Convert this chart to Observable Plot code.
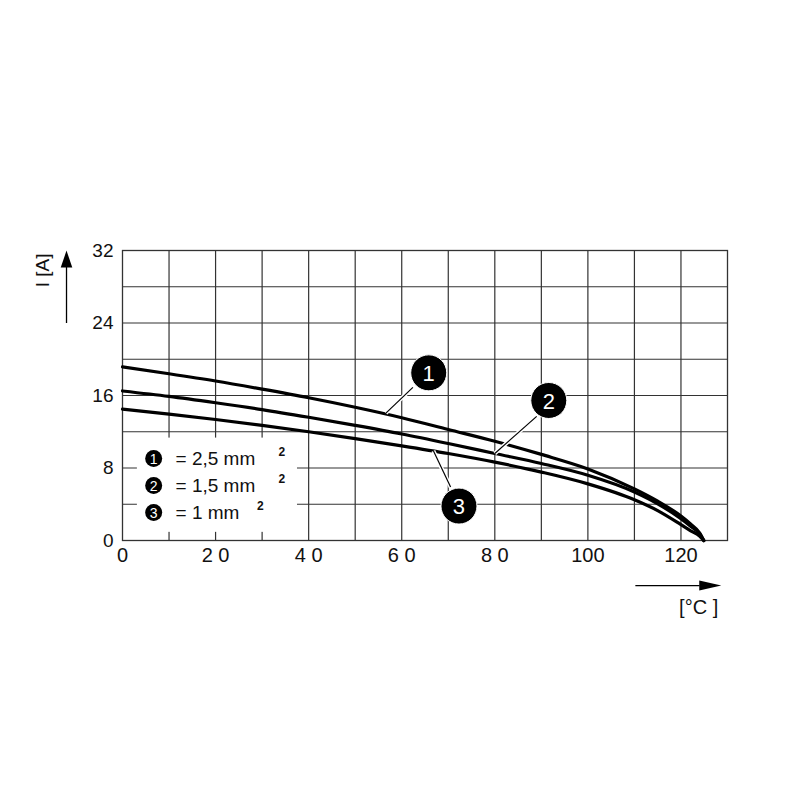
<!DOCTYPE html>
<html>
<head>
<meta charset="utf-8">
<script src="https://cdn.jsdelivr.net/npm/d3@7"></script>
<script src="https://cdn.jsdelivr.net/npm/@observablehq/plot@0.6"></script>
<style>
  html, body { margin: 0; padding: 0; background: #fff; }
  #chart { width: 800px; height: 800px; }
</style>
</head>
<body>
<div id="chart"></div>
<script>
// ---- data ----
const temps  = [0, 10, 20, 30, 40, 50, 60, 70, 80, 90, 100, 110, 115, 120, 122, 124, 124.9];
const curve1 = [19.15, 18.4, 17.6, 16.7, 15.75, 14.7, 13.55, 12.25, 10.95, 9.5, 7.9, 5.7, 4.35, 2.7, 1.85, 0.85, 0];
const curve2 = [16.5, 15.9, 15.2, 14.45, 13.6, 12.7, 11.75, 10.7, 9.6, 8.5, 7.2, 5.35, 4.05, 2.4, 1.6, 0.75, 0];
const curve3 = [14.5, 13.95, 13.35, 12.7, 12.0, 11.25, 10.45, 9.6, 8.65, 7.55, 6.25, 4.5, 3.3, 1.75, 1.1, 0.5, 0];
const seriesIds = ["1", "2", "3"];
const legendLabels = ["= 2,5 mm", "= 1,5 mm", "= 1 mm"];

const xTicks = [0, 20, 40, 60, 80, 100, 120];
const xTickLabels = ["0", "2 0", "4 0", "6 0", "8 0", "100", "120"];
const yTicks = [0, 8, 16, 24, 32];
const xGrid = [10, 20, 30, 40, 50, 60, 70, 80, 90, 100, 110, 120];
const yGrid = [4, 8, 12, 16, 20, 24, 28];

// callout circles and leader lines
const calloutX = [65.8, 91.6, 72.3];
const calloutY = [18.5, 15.45, 3.8];
const leaderX1 = [62.4, 89.0, 70.5];
const leaderY1 = [16.9, 13.7, 5.9];
const leaderX2 = [56.6, 80.0, 66.8];
const leaderY2 = [14.05, 9.6, 9.9];

// legend placement (data units)
const legendCircleX = 6.7;
const legendTextX = 11.4;
const legendRowY = [9.05, 6.07, 3.09];
const legendSupX = [33.5, 33.5, 28.9];

// ---- build ----
const curveRows = [];
[curve1, curve2, curve3].forEach((c, k) => {
  temps.forEach((t, i) => curveRows.push({ s: seriesIds[k], t, v: c[i] }));
});
const callouts = seriesIds.map((s, i) => ({ s, x: calloutX[i], y: calloutY[i] }));
const leaders = seriesIds.map((s, i) => ({ x1: leaderX1[i], y1: leaderY1[i], x2: leaderX2[i], y2: leaderY2[i] }));
const legendRows = seriesIds.map((s, i) => ({ s, label: legendLabels[i], y: legendRowY[i], sx: legendSupX[i] }));

function headSymbol(k) {
  return {
    draw(ctx, size) {
      const r = Math.sqrt(size / Math.PI);
      ctx.moveTo(0, -r);
      ctx.lineTo(k * r, r);
      ctx.lineTo(-k * r, r);
      ctx.closePath();
    }
  };
}

const gridColor = "#333";
const font = "'Liberation Sans', Arial, Helvetica, sans-serif";

const chart = Plot.plot({
  width: 800,
  height: 800,
  marginLeft: 122,
  marginRight: 73,
  marginTop: 250,
  marginBottom: 260,
  x: { domain: [0, 130] },
  y: { domain: [0, 32] },
  style: { fontFamily: font, background: "white", color: "#111" },
  marks: [
    Plot.ruleX(xGrid, { stroke: gridColor, strokeWidth: 1.2 }),
    Plot.ruleY(yGrid, { stroke: gridColor, strokeWidth: 1.2 }),
    // white legend panel hiding the grid
    Plot.rect([{ x1: 3.2, x2: 37.6, y1: 0.9, y2: 11.3 }], { x1: "x1", x2: "x2", y1: "y1", y2: "y2", fill: "white" }),
    Plot.frame({ stroke: gridColor, strokeWidth: 1.3 }),
    Plot.axisX({ ticks: xTicks, tickFormat: d => xTickLabels[xTicks.indexOf(d)], tickSize: 0, tickPadding: 7, fontSize: 20, label: null }),
    Plot.axisY({ ticks: yTicks, tickSize: 0, tickPadding: 9, fontSize: 19, label: null }),
    // curves
    Plot.line(curveRows, { x: "t", y: "v", z: "s", stroke: "black", strokeWidth: 3.2, curve: "monotone-x" }),
    // leader lines with white halo
    Plot.link(leaders, { x1: "x1", y1: "y1", x2: "x2", y2: "y2", stroke: "white", strokeWidth: 4 }),
    Plot.link(leaders, { x1: "x1", y1: "y1", x2: "x2", y2: "y2", stroke: "black", strokeWidth: 1.2 }),
    // callout circles
    Plot.dot(callouts, { x: "x", y: "y", r: 18, fill: "black", stroke: "white", strokeWidth: 1 }),
    Plot.text(callouts, { x: "x", y: "y", text: "s", fill: "white", fontSize: 22, dy: 1 }),
    // legend
    Plot.dot(legendRows, { x: () => legendCircleX, y: "y", r: 8.5, fill: "black" }),
    Plot.text(legendRows, { x: () => legendCircleX, y: "y", text: "s", fill: "white", fontSize: 14, dy: 1 }),
    Plot.text(legendRows, { x: () => legendTextX, y: "y", text: "label", textAnchor: "start", fontSize: 19, fill: "#111" }),
    Plot.text(legendRows, { x: "sx", y: "y", text: () => "2", textAnchor: "start", fontSize: 12, fontWeight: "bold", dy: -6, fill: "#111" }),
    // y axis label and arrow
    Plot.text([{ x: -17.0, y: 29.8 }], { x: "x", y: "y", text: () => "I [A]", rotate: -90, fontSize: 19, fill: "#111" }),
    Plot.link([{ x1: -12.03, y1: 24.0, x2: -12.03, y2: 30.5 }], { x1: "x1", y1: "y1", x2: "x2", y2: "y2", stroke: "black", strokeWidth: 1.3 }),
    Plot.dot([{ x: -12.03, y: 31.05 }], { x: "x", y: "y", r: 8.5, symbol: headSymbol(0.68), fill: "black", stroke: "none" }),
    // x axis label and arrow
    Plot.link([{ x1: 110.2, y1: -4.97, x2: 124, y2: -4.97 }], { x1: "x1", y1: "y1", x2: "x2", y2: "y2", stroke: "black", strokeWidth: 1.3 }),
    Plot.dot([{ x: 126.3, y: -4.97 }], { x: "x", y: "y", r: 11, rotate: 90, symbol: headSymbol(0.45), fill: "black", stroke: "none" }),
    Plot.text([{ x: 123.8, y: -7.45 }], { x: "x", y: "y", text: () => "[°C ]", fontSize: 20, fill: "#111" })
  ]
});
document.getElementById("chart").appendChild(chart);
</script>
</body>
</html>
